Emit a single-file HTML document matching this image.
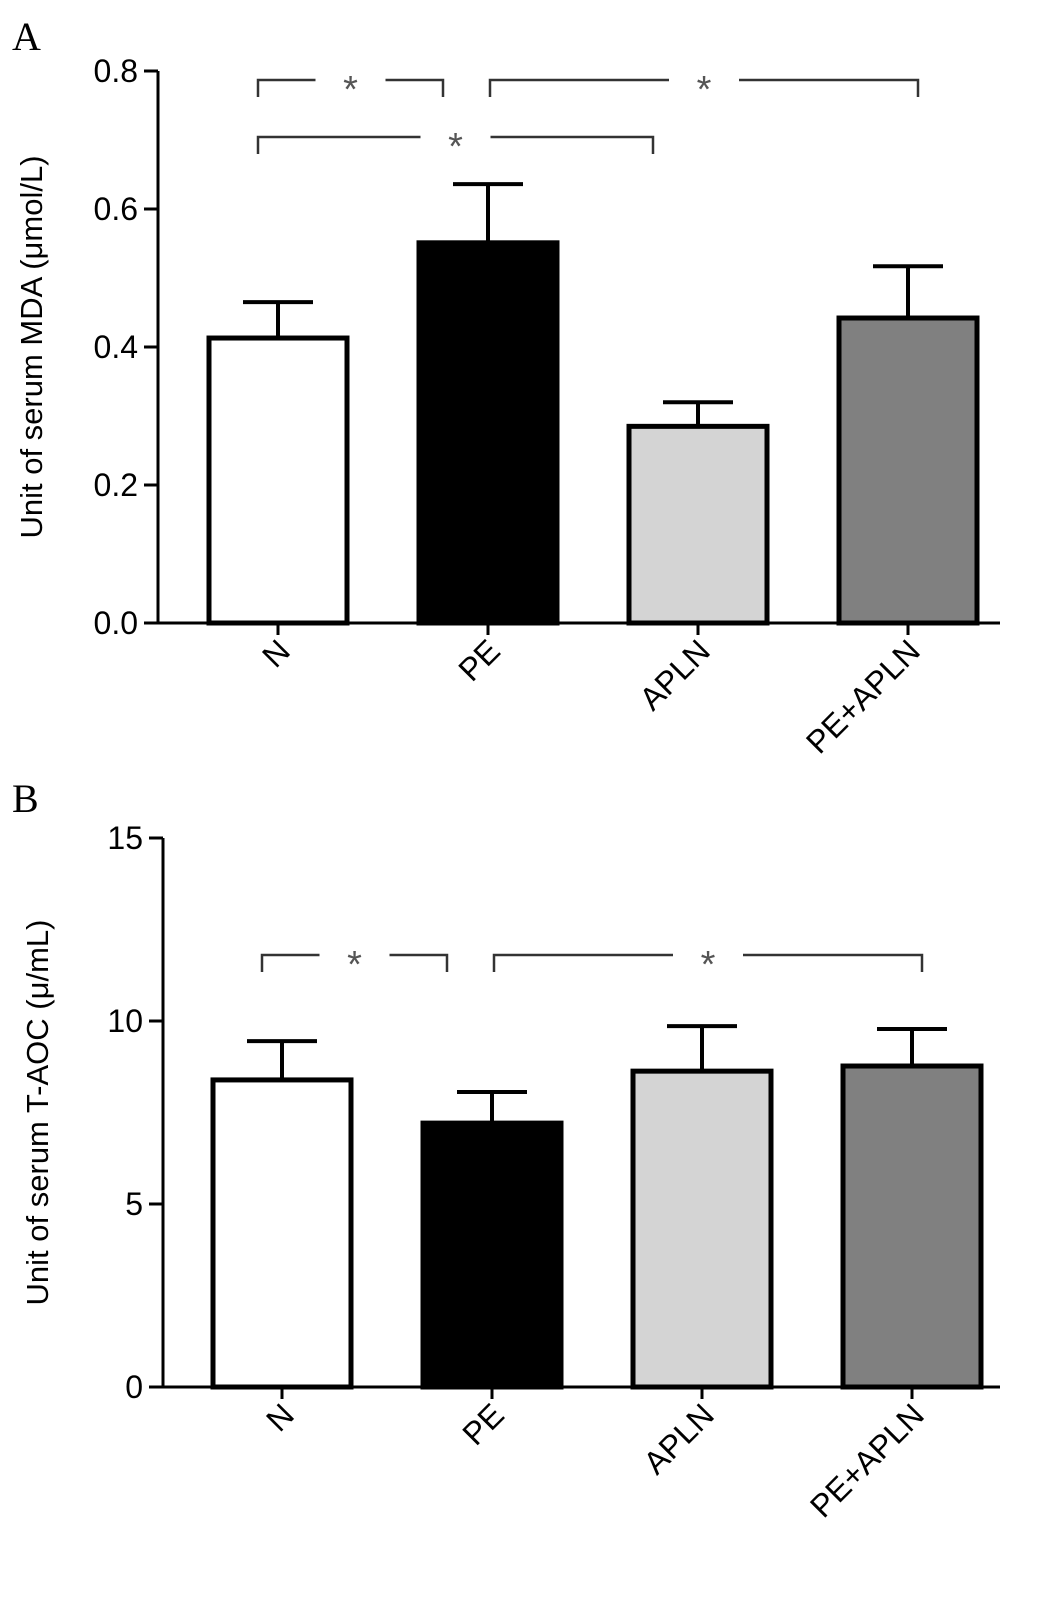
<!DOCTYPE html>
<html><head><meta charset="utf-8"><style>
body{margin:0;background:#fff}
svg text{font-family:"Liberation Sans",Arial,sans-serif;fill:#000}
</style></head><body>
<svg id="chart" width="1046" height="1596" xmlns="http://www.w3.org/2000/svg"></svg>
<script>
const categories=["N","PE","APLN","PE+APLN"];
const fills=["#ffffff","#000000","#d4d4d4","#808080"];
const mdaValues=[0.413,0.551,0.285,0.442];
const mdaErrors=[0.052,0.085,0.035,0.075];
const mdaTicks=[0,0.2,0.4,0.6,0.8];
const mdaTickLabels=["0.0","0.2","0.4","0.6","0.8"];
const aocValues=[8.39,7.21,8.63,8.77];
const aocErrors=[1.06,0.85,1.23,1.01];
const aocTicks=[0,5,10,15];
const aocTickLabels=["0","5","10","15"];
const mdaSig=[[0,1,0],[1,3,0],[0,2,1]];
const aocSig=[[0,1,0],[1,3,0]];
const svg=document.getElementById('chart');
const NS="http://www.w3.org/2000/svg";
function mk(tag,attrs,parent){const e=document.createElementNS(NS,tag);for(const k in attrs)e.setAttribute(k,attrs[k]);(parent||svg).appendChild(e);return e;}
function panel(p){
  const g=mk('g',{});
  
  
  const y=v=>p.y0-(v/p.max)*(p.y0-p.yTop);
  const step=210, x=i=>p.xStart+i*step;
  const letter=mk('text',{x:12,y:p.letterY,'font-size':40,style:'font-family:"Liberation Serif",serif'},g);
  letter.textContent=p.letter;
  
  
  const t=mk('text',{transform:`translate(${p.titleX},${(p.y0+p.yTop)/2}) rotate(-90)`,'text-anchor':'middle','font-size':31},g);
  t.textContent=p.title;
  
  
  p.values.forEach((v,i)=>{
    const cx=x(i);
    const e=mk('line',{x1:cx,x2:cx,y1:y(v),y2:y(v+p.errors[i]),stroke:'#000','stroke-width':4},g);
    
    
    const cap=mk('line',{x1:cx-35,x2:cx+35,y1:y(v+p.errors[i]),y2:y(v+p.errors[i]),stroke:'#000','stroke-width':4},g);
    
    
    const r=mk('rect',{x:cx-69,y:y(v),width:138,height:p.y0-y(v),fill:fills[i],stroke:'#000','stroke-width':5},g);
    
    
    const tk=mk('line',{x1:cx,x2:cx,y1:p.y0,y2:p.y0+12,stroke:'#000','stroke-width':3},g);
    
    
    const lb=mk('text',{transform:`translate(${cx+14},${p.y0+30}) rotate(-45)`,'text-anchor':'end','font-size':32},g);
    lb.textContent=categories[i];
    
    
  });
  const ya=mk('line',{x1:p.ax,x2:p.ax,y1:p.yTop,y2:p.y0+1.5,stroke:'#000','stroke-width':3},g);
  
  
  const xa=mk('line',{x1:p.ax-1.5,x2:1000,y1:p.y0,y2:p.y0,stroke:'#000','stroke-width':3},g);
  
  
  p.ticks.forEach((v,i)=>{
    const l=mk('line',{x1:p.ax-14,x2:p.ax,y1:y(v),y2:y(v),stroke:'#000','stroke-width':3},g);
    
    
    const tx=mk('text',{x:p.ax-20,y:y(v)+11,'text-anchor':'end','font-size':32},g);
    tx.textContent=p.tickLabels[i];
    
    
  });
  p.sig.forEach(s=>{
    const x1=x(s[0])-20+(s[0]>0?22:0), x2=x(s[1])+(s[1]===3?10:-45);
    const yy=p.sigY[s[2]], mid=(x1+x2)/2;
    const path=mk('path',{d:`M${x1},${yy+17} V${yy} H${mid-35} M${mid+35},${yy} H${x2} V${yy+17}`,fill:'none',stroke:'#333','stroke-width':2.5},g);
    
    
    const st=mk('text',{x:mid,y:yy+22,'text-anchor':'middle','font-size':38,style:'fill:#555'},g);
    st.textContent='*';
    
    
  });
}
panel({name:'panel-a-mda',letter:'A',letterY:50,title:'Unit of serum MDA (μmol/L)',titleX:42,ax:158,y0:623,yTop:71,max:0.8,xStart:278,values:mdaValues,errors:mdaErrors,ticks:mdaTicks,tickLabels:mdaTickLabels,sig:mdaSig,sigY:[80,137]});
panel({name:'panel-b-taoc',letter:'B',letterY:812,title:'Unit of serum T-AOC (μ/mL)',titleX:48,ax:163,y0:1387,yTop:838,max:15,xStart:282,values:aocValues,errors:aocErrors,ticks:aocTicks,tickLabels:aocTickLabels,sig:aocSig,sigY:[955]});
</script>
</body></html>
